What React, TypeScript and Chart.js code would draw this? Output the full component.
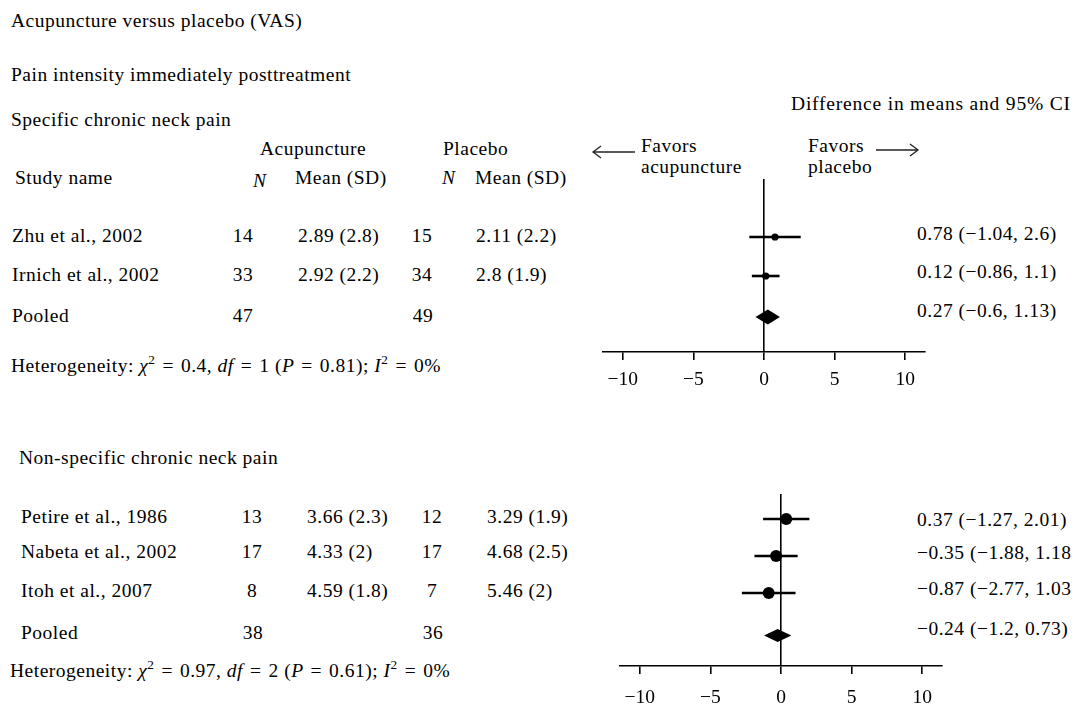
import React, { useEffect, useRef } from 'react';
import { Chart, registerables } from 'chart.js';
Chart.register(...registerables);

// ---------- data ----------
const TICKS = [-10, -5, 0, 5, 10];

const SPEC_STUDIES = ['Zhu et al., 2002', 'Irnich et al., 2002'];
const SPEC_N_ACU = [14, 33];
const SPEC_MEAN_ACU = ['2.89 (2.8)', '2.92 (2.2)'];
const SPEC_N_PLA = [15, 34];
const SPEC_MEAN_PLA = ['2.11 (2.2)', '2.8 (1.9)'];
const SPEC_EST = [0.78, 0.12];
const SPEC_LO = [-1.04, -0.86];
const SPEC_HI = [2.6, 1.1];
const SPEC_POOLED = [0.27, -0.6, 1.13];
const SPEC_POOLED_N = [47, 49];
const SPEC_HET = [0.4, 1, 0.81, 0];

const NON_STUDIES = ['Petire et al., 1986', 'Nabeta et al., 2002', 'Itoh et al., 2007'];
const NON_N_ACU = [13, 17, 8];
const NON_MEAN_ACU = ['3.66 (2.3)', '4.33 (2)', '4.59 (1.8)'];
const NON_N_PLA = [12, 17, 7];
const NON_MEAN_PLA = ['3.29 (1.9)', '4.68 (2.5)', '5.46 (2)'];
const NON_EST = [0.37, -0.35, -0.87];
const NON_LO = [-1.27, -1.88, -2.77];
const NON_HI = [2.01, 1.18, 1.03];
const NON_POOLED = [-0.24, -1.2, 0.73];
const NON_POOLED_N = [38, 36];
const NON_HET = [0.97, 2, 0.61, 0];

// ---------- style ----------
const FAMILY = '"Liberation Serif", "Times New Roman", serif';
const FS = 19.5;
const EQ = '\u2004=\u2004';

const fmt = (v: number) => (v < 0 ? '\u2212' + Math.abs(v) : String(v));

function T({ x, b, children, center, style }: any) {
  return (
    <div
      style={{
        position: 'absolute',
        left: x,
        top: b - 0.8375 * FS,
        fontSize: FS,
        lineHeight: FS + 'px',
        whiteSpace: 'nowrap',
        letterSpacing: '0.5px',
        transform: center ? 'translateX(-50%)' : undefined,
        ...style,
      }}
    >
      {children}
    </div>
  );
}

const Sup = ({ children }: any) => (
  <span style={{ fontSize: '0.68em', position: 'relative', top: '-0.55em', verticalAlign: 'baseline' }}>{children}</span>
);

function Effect({ x, b, vals }: any) {
  const [e, l, h] = vals;
  return (
    <T x={x} b={b}>
      {fmt(e) + ' (' + fmt(l) + ', ' + fmt(h) + ')'}
    </T>
  );
}

function Forest({ left, top, width, height, est, lo, hi, pooled, pooledRow, yMin, yMax, radius, diamondHalf, tickPad }: any) {
  const ref = useRef<HTMLCanvasElement>(null);
  useEffect(() => {
    const rows = est.map((_: number, i: number) => i + 1);
    const datasets: any[] = [
      ...lo.map((l: number, i: number) => ({
        type: 'scatter',
        data: [
          { x: l, y: rows[i] },
          { x: hi[i], y: rows[i] },
        ],
        showLine: true,
        borderColor: '#000',
        borderWidth: 2.6,
        pointRadius: 0,
        fill: false,
      })),
      {
        type: 'scatter',
        data: est.map((e: number, i: number) => ({ x: e, y: rows[i] })),
        pointRadius: radius,
        pointBackgroundColor: '#000',
        pointBorderColor: '#000',
        pointBorderWidth: 0,
        showLine: false,
      },
    ];
    const diamond = {
      id: 'diamond',
      afterDatasetsDraw(chart: any) {
        const { ctx, scales } = chart;
        const x = scales.x;
        const y = scales.y;
        const yc = y.getPixelForValue(pooledRow);
        ctx.save();
        ctx.beginPath();
        ctx.moveTo(x.getPixelForValue(pooled[1]), yc);
        ctx.lineTo(x.getPixelForValue(pooled[0]), yc - diamondHalf);
        ctx.lineTo(x.getPixelForValue(pooled[2]), yc);
        ctx.lineTo(x.getPixelForValue(pooled[0]), yc + diamondHalf);
        ctx.closePath();
        ctx.fillStyle = '#000';
        ctx.fill();
        ctx.restore();
      },
    };
    const chart = new Chart(ref.current as HTMLCanvasElement, {
      type: 'scatter',
      data: { datasets },
      options: {
        responsive: false,
        maintainAspectRatio: false,
        animation: false,
        events: [],
        layout: { padding: { left: 10, right: 10, top: 10, bottom: 0 } },
        plugins: { legend: { display: false }, tooltip: { enabled: false } },
        scales: {
          x: {
            type: 'linear',
            position: 'bottom',
            min: -11.4,
            max: 11.4,
            afterBuildTicks: (s: any) => {
              s.ticks = TICKS.map((v) => ({ value: v }));
            },
            afterFit: (s: any) => {
              s.height = 40;
            },
            ticks: {
              color: '#000',
              font: { family: FAMILY, size: FS },
              padding: tickPad,
              maxRotation: 0,
              autoSkip: false,
              callback: (v: any) => fmt(Number(v)),
            },
            grid: {
              drawOnChartArea: true,
              color: (c: any) => (c.tick && c.tick.value === 0 ? '#000' : 'rgba(0,0,0,0)'),
              lineWidth: 1.6,
              tickColor: '#000',
              tickLength: 8,
              tickWidth: 1.6,
            },
            border: { display: true, color: '#000', width: 1.6 },
          },
          y: { type: 'linear', display: false, min: yMin, max: yMax, reverse: true },
        },
      } as any,
      plugins: [diamond],
    });
    return () => chart.destroy();
  }, []);
  return <canvas ref={ref} width={width} height={height} style={{ position: 'absolute', left, top, width, height }} />;
}

function Arrow({ x1, x2, y, dir }: any) {
  const hx = dir < 0 ? x1 : x2;
  const s = dir < 0 ? 1 : -1;
  return (
    <svg style={{ position: 'absolute', left: 0, top: 0 }} width={1072} height={708}>
      <line x1={x1} y1={y} x2={x2} y2={y} stroke="#222" strokeWidth={1.3} />
      <polyline points={`${hx + s * 8},${y - 6} ${hx},${y} ${hx + s * 8},${y + 6}`} fill="none" stroke="#222" strokeWidth={1.3} />
    </svg>
  );
}

function Het({ x, b, vals }: any) {
  return (
    <T x={x} b={b}>
      Heterogeneity: <i>χ</i>
      <Sup>2</Sup>
      {EQ}
      {vals[0]}, <i>df</i>
      {EQ}
      {vals[1]} (<i>P</i>
      {EQ}
      {vals[2]}); <i>I</i>
      <Sup>2</Sup>
      {EQ}
      {vals[3]}%
    </T>
  );
}

export default function App() {
  const topRows = [242, 281];
  const botRows = [523, 558, 597];
  return (
    <div
      style={{
        position: 'fixed',
        left: 0,
        top: 0,
        width: 1072,
        height: 708,
        overflow: 'hidden',
        background: '#fff',
        color: '#000',
        fontFamily: FAMILY,
      }}
    >
      <T x={11} b={27}>Acupuncture versus placebo (VAS)</T>
      <T x={11} b={81}>Pain intensity immediately posttreatment</T>
      <T x={11} b={126}>Specific chronic neck pain</T>

      <T x={260} b={155}>Acupuncture</T>
      <T x={443} b={155}>Placebo</T>
      <T x={15} b={184}>Study name</T>
      <T x={253} b={187}><i>N</i></T>
      <T x={295} b={184}>Mean (SD)</T>
      <T x={442} b={184}><i>N</i></T>
      <T x={475} b={184}>Mean (SD)</T>

      <T x={791} b={110} style={{ letterSpacing: '0.8px' }}>Difference in means and 95% CI</T>
      <Arrow x1={593} x2={635} y={152} dir={-1} />
      <T x={641} b={152}>Favors</T>
      <T x={641} b={173}>acupuncture</T>
      <T x={808} b={152}>Favors</T>
      <T x={808} b={173}>placebo</T>
      <Arrow x1={876} x2={918} y={150} dir={1} />

      {SPEC_STUDIES.map((s, i) => (
        <React.Fragment key={s}>
          <T x={12} b={topRows[i]}>{s}</T>
          <T x={243} b={topRows[i]} center>{SPEC_N_ACU[i]}</T>
          <T x={298} b={topRows[i]}>{SPEC_MEAN_ACU[i]}</T>
          <T x={422} b={topRows[i]} center>{SPEC_N_PLA[i]}</T>
          <T x={476} b={topRows[i]}>{SPEC_MEAN_PLA[i]}</T>
          <Effect x={917} b={[240, 278][i]} vals={[SPEC_EST[i], SPEC_LO[i], SPEC_HI[i]]} />
        </React.Fragment>
      ))}
      <T x={12} b={322}>Pooled</T>
      <T x={243} b={322} center>{SPEC_POOLED_N[0]}</T>
      <T x={423} b={322} center>{SPEC_POOLED_N[1]}</T>
      <Effect x={917} b={317} vals={SPEC_POOLED} />
      <Het x={11} b={372} vals={SPEC_HET} />

      <Forest
        left={593}
        top={169}
        width={342}
        height={223}
        est={SPEC_EST}
        lo={SPEC_LO}
        hi={SPEC_HI}
        pooled={SPEC_POOLED}
        pooledRow={SPEC_EST.length + 1.05}
        yMin={-0.487}
        yMax={3.949}
        radius={3.6}
        diamondHalf={7.5}
        tickPad={8}
      />

      <T x={19} b={464}>Non-specific chronic neck pain</T>
      {NON_STUDIES.map((s, i) => (
        <React.Fragment key={s}>
          <T x={21} b={botRows[i]}>{s}</T>
          <T x={252} b={botRows[i]} center>{NON_N_ACU[i]}</T>
          <T x={307} b={botRows[i]}>{NON_MEAN_ACU[i]}</T>
          <T x={432} b={botRows[i]} center>{NON_N_PLA[i]}</T>
          <T x={487} b={botRows[i]}>{NON_MEAN_PLA[i]}</T>
          <Effect x={917} b={[526, 559, 595][i]} vals={[NON_EST[i], NON_LO[i], NON_HI[i]]} />
        </React.Fragment>
      ))}
      <T x={21} b={639}>Pooled</T>
      <T x={253} b={639} center>{NON_POOLED_N[0]}</T>
      <T x={433} b={639} center>{NON_POOLED_N[1]}</T>
      <Effect x={917} b={635} vals={NON_POOLED} />
      <Het x={10} b={677} vals={NON_HET} />

      <Forest
        left={610}
        top={484}
        width={342}
        height={222}
        est={NON_EST}
        lo={NON_LO}
        hi={NON_HI}
        pooled={NON_POOLED}
        pooledRow={NON_EST.length + 1.15}
        yMin={0.324}
        yMax={4.973}
        radius={6}
        diamondHalf={6.5}
        tickPad={12}
      />
    </div>
  );
}
